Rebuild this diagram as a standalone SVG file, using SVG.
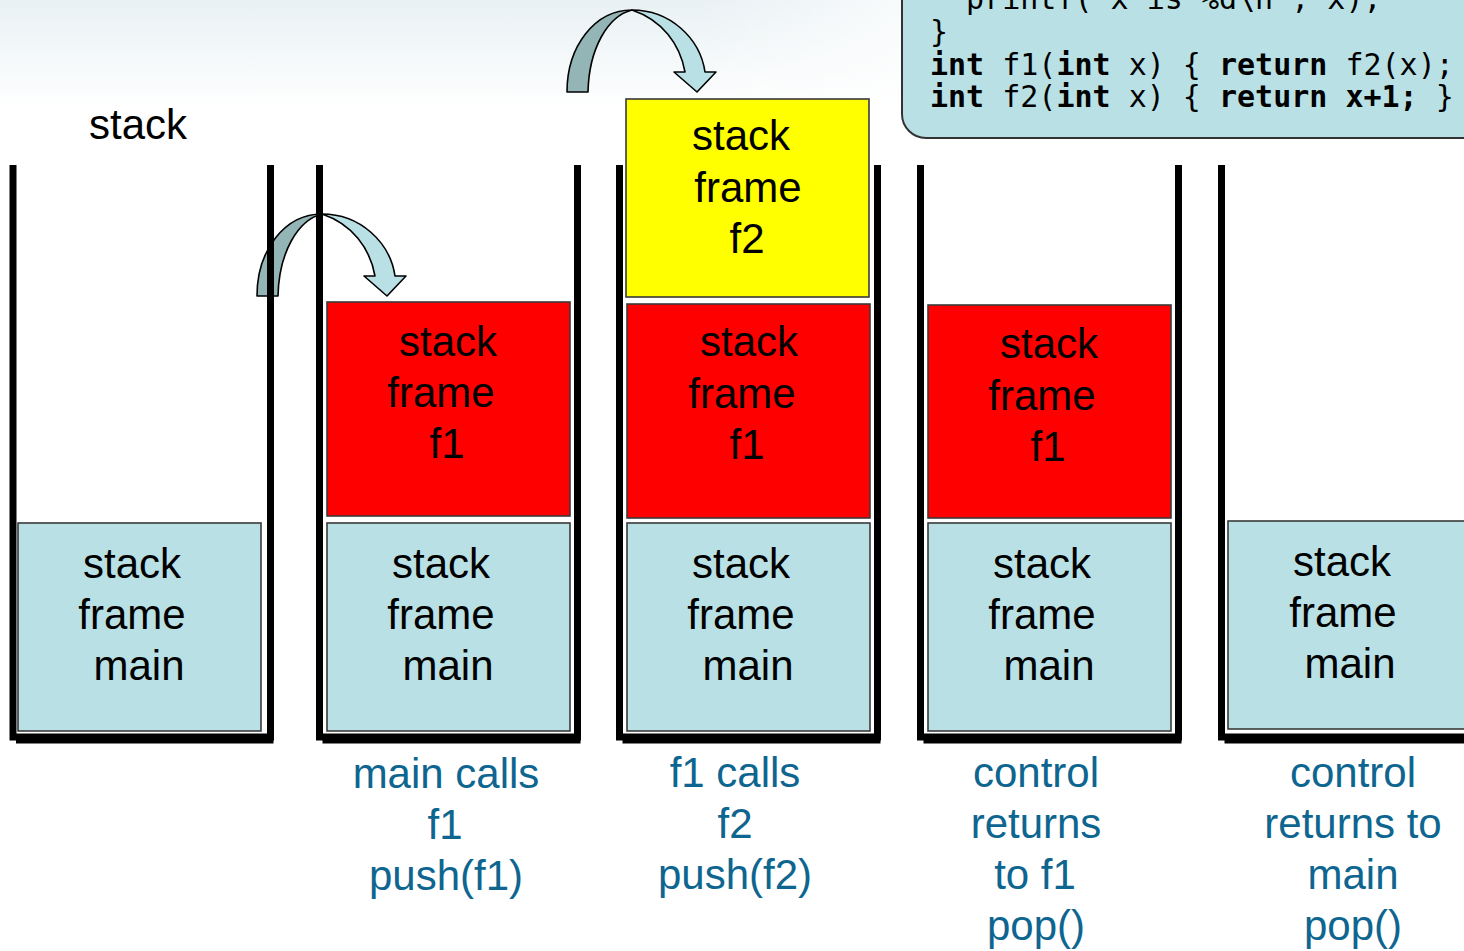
<svg xmlns="http://www.w3.org/2000/svg" xmlns:xlink="http://www.w3.org/1999/xlink" width="1464" height="951" viewBox="0 0 1464 951">
  <style>
    .wall { fill: none; stroke: #000; stroke-width: 7; stroke-linejoin: miter; }
    .base { stroke: #000; stroke-width: 7; }
    .frame { stroke: #3a3a3a; stroke-width: 1.6; }
    .main { fill: #b9e0e4; }
    .f1 { fill: #ff0000; }
    .f2 { fill: #ffff00; }
    .lbl { font-family: "Liberation Sans", Arial, sans-serif; font-size: 42px; fill: #000; text-anchor: middle; }
    .cap { font-family: "Liberation Sans", Arial, sans-serif; font-size: 42px; fill: #0e6690; text-anchor: middle; }
    .code { font-family: "DejaVu Sans Mono", "Liberation Mono", monospace; font-size: 30px; fill: #000; white-space: pre; }
    .kw { font-weight: bold; }
    .back { fill: #93b5b6; stroke: #000; stroke-width: 1.6; stroke-linejoin: round; }
    .front { fill: #b9e0e4; stroke: #000; stroke-width: 1.6; stroke-linejoin: round; }
  </style>
  <defs>
    <linearGradient id="haze" x1="0" y1="0" x2="0" y2="1">
      <stop offset="0" stop-color="#e9f1f4"/>
      <stop offset="1" stop-color="#ffffff"/>
    </linearGradient>
    <linearGradient id="hazeFade" x1="0" y1="0" x2="1" y2="0">
      <stop offset="0" stop-color="#fff" stop-opacity="0"/>
      <stop offset="0.7" stop-color="#fff" stop-opacity="0"/>
      <stop offset="1" stop-color="#fff" stop-opacity="1"/>
    </linearGradient>
    <!-- curved "call" arrow: back face on the left, front face with head on the right -->
    <g id="curl">
      <path class="back" d="M257,296 C257,250 285,214 322,214 C298,220 279,252 278,296 Z"/>
      <path class="front" d="M322,214 C360,214 390,242 395,276 L406,276 L387,296 L364,276 L375,276 C370,248 352,224 322,214 Z"/>
    </g>
  </defs>

  <!-- page background -->
  <rect x="0" y="0" width="1464" height="951" fill="#fff"/>
  <rect x="0" y="0" width="1000" height="110" fill="url(#haze)"/>
  <rect x="0" y="0" width="1000" height="110" fill="url(#hazeFade)"/>

  <!-- source code -->
  <g id="code">
    <path d="M902,-10 V114 A24,24 0 0 0 926,138 H1474 V-10 Z" fill="#b9e0e4" stroke="#333" stroke-width="2"/>
    <text class="code" x="930" y="9">  printf("x is %d\n", x);</text>
    <text class="code" x="930" y="42">}</text>
    <text class="code" x="930" y="75"><tspan class="kw">int</tspan> f1(<tspan class="kw">int</tspan> x) { <tspan class="kw">return</tspan> f2(x);</text>
    <text class="code" x="930" y="107"><tspan class="kw">int</tspan> f2(<tspan class="kw">int</tspan> x) { <tspan class="kw">return x+1;</tspan> }</text>
  </g>

  <text class="lbl" x="138" y="139">stack</text>

  <!-- call arrows -->
  <g id="connectors">
    <use xlink:href="#curl"/>
    <use xlink:href="#curl" transform="translate(310,-204)"/>
  </g>

  <!-- stack 1: main only -->
  <g id="stack1">
    <path class="wall" d="M13,165 V737 H270.5 V165"/>
    <line class="base" x1="16" y1="740" x2="273.5" y2="740"/>
    <rect class="main frame" x="18" y="523" width="243" height="208"/>
    <text class="lbl" x="132" y="578">stack</text>
    <text class="lbl" x="132" y="629">frame</text>
    <text class="lbl" x="139" y="680">main</text>
  </g>

  <!-- stack 2: main calls f1 -->
  <g id="stack2">
    <path class="wall" d="M319.5,165 V737 H577.5 V165"/>
    <line class="base" x1="322.5" y1="740" x2="580.5" y2="740"/>
    <rect class="f1 frame" x="327" y="302" width="243" height="214"/>
    <text class="lbl" x="448" y="356">stack</text>
    <text class="lbl" x="441" y="407">frame</text>
    <text class="lbl" x="447" y="458">f1</text>
    <rect class="main frame" x="327" y="523" width="243" height="208"/>
    <text class="lbl" x="441" y="578">stack</text>
    <text class="lbl" x="441" y="629">frame</text>
    <text class="lbl" x="448" y="680">main</text>
  </g>

  <!-- stack 3: f1 calls f2 -->
  <g id="stack3">
    <path class="wall" d="M619.5,165 V737 H877.5 V165"/>
    <line class="base" x1="622.5" y1="740" x2="880.5" y2="740"/>
    <rect class="f2 frame" x="626" y="99" width="243" height="198"/>
    <text class="lbl" x="741" y="150">stack</text>
    <text class="lbl" x="748" y="202">frame</text>
    <text class="lbl" x="747" y="253">f2</text>
    <rect class="f1 frame" x="627" y="304" width="243" height="214"/>
    <text class="lbl" x="749" y="356">stack</text>
    <text class="lbl" x="742" y="408">frame</text>
    <text class="lbl" x="747" y="459">f1</text>
    <rect class="main frame" x="627" y="523" width="243" height="208"/>
    <text class="lbl" x="741" y="578">stack</text>
    <text class="lbl" x="741" y="629">frame</text>
    <text class="lbl" x="748" y="680">main</text>
  </g>

  <!-- stack 4: back in f1 -->
  <g id="stack4">
    <path class="wall" d="M920.5,165 V737 H1178.5 V165"/>
    <line class="base" x1="923.5" y1="740" x2="1181.5" y2="740"/>
    <rect class="f1 frame" x="928" y="305" width="243" height="213"/>
    <text class="lbl" x="1049" y="358">stack</text>
    <text class="lbl" x="1042" y="410">frame</text>
    <text class="lbl" x="1048" y="461">f1</text>
    <rect class="main frame" x="928" y="523" width="243" height="208"/>
    <text class="lbl" x="1042" y="578">stack</text>
    <text class="lbl" x="1042" y="629">frame</text>
    <text class="lbl" x="1049" y="680">main</text>
  </g>

  <!-- stack 5: back in main -->
  <g id="stack5">
    <path class="wall" d="M1221.5,165 V737 H1480"/>
    <line class="base" x1="1224.5" y1="740" x2="1480" y2="740"/>
    <rect class="main frame" x="1228" y="521" width="243" height="208"/>
    <text class="lbl" x="1342" y="576">stack</text>
    <text class="lbl" x="1343" y="627">frame</text>
    <text class="lbl" x="1350" y="678">main</text>
  </g>

  <!-- step captions -->
  <g id="captions">
    <text class="cap" x="446" y="788">main calls</text>
    <text class="cap" x="445" y="839">f1</text>
    <text class="cap" x="446" y="890">push(f1)</text>

    <text class="cap" x="735" y="787">f1 calls</text>
    <text class="cap" x="735" y="838">f2</text>
    <text class="cap" x="735" y="889">push(f2)</text>

    <text class="cap" x="1036" y="787">control</text>
    <text class="cap" x="1036" y="838">returns</text>
    <text class="cap" x="1035" y="889">to f1</text>
    <text class="cap" x="1036" y="940">pop()</text>

    <text class="cap" x="1353" y="787">control</text>
    <text class="cap" x="1353" y="838">returns to</text>
    <text class="cap" x="1353" y="889">main</text>
    <text class="cap" x="1353" y="940">pop()</text>
  </g>
</svg>
